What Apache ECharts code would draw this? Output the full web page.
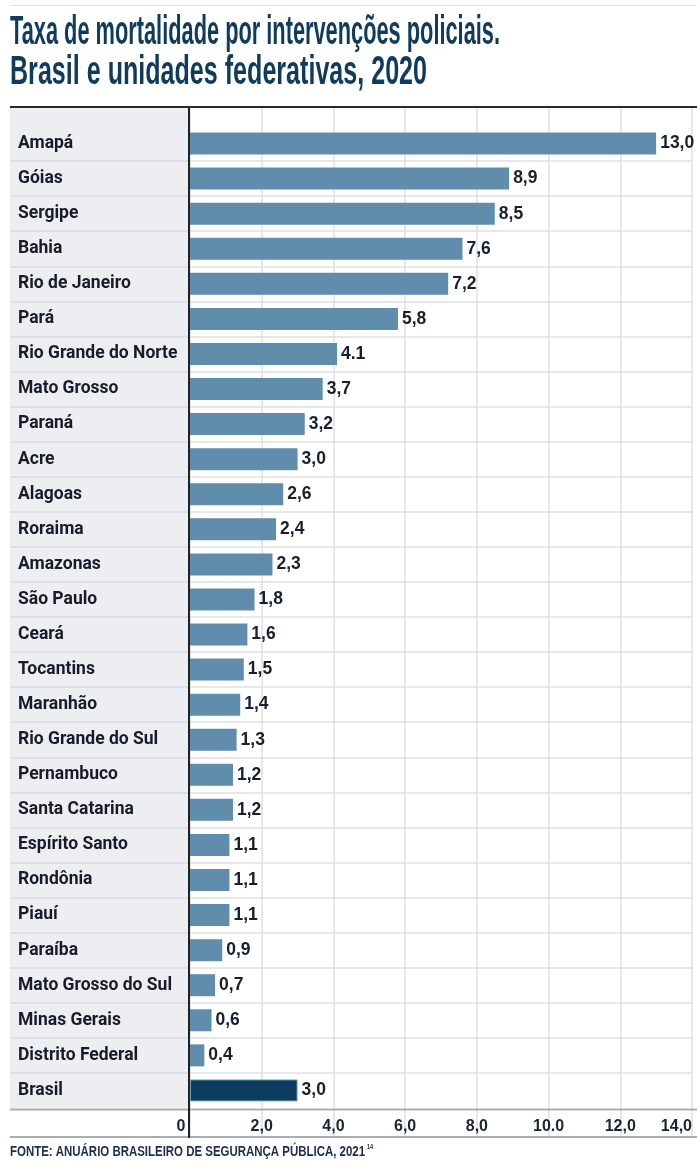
<!DOCTYPE html>
<html>
<head>
<meta charset="utf-8">
<script src="https://cdn.jsdelivr.net/npm/echarts@6/dist/echarts.min.js"></script>
<style>
html,body{margin:0;padding:0;background:#fff;}
#chart{width:697px;height:1167px;}
</style>
</head>
<body>
<div id="chart"></div>
<script>
// ---- data ----
const categories = ['Amapá','Góias','Sergipe','Bahia','Rio de Janeiro','Pará','Rio Grande do Norte','Mato Grosso','Paraná','Acre','Alagoas','Roraima','Amazonas','São Paulo','Ceará','Tocantins','Maranhão','Rio Grande do Sul','Pernambuco','Santa Catarina','Espírito Santo','Rondônia','Piauí','Paraíba','Mato Grosso do Sul','Minas Gerais','Distrito Federal','Brasil'];
const values = [13.0,8.9,8.5,7.6,7.2,5.8,4.1,3.7,3.2,3.0,2.6,2.4,2.3,1.8,1.6,1.5,1.4,1.3,1.2,1.2,1.1,1.1,1.1,0.9,0.7,0.6,0.4,3.0];
const valueLabels = ['13,0','8,9','8,5','7,6','7,2','5,8','4.1','3,7','3,2','3,0','2,6','2,4','2,3','1,8','1,6','1,5','1,4','1,3','1,2','1,2','1,1','1,1','1,1','0,9','0,7','0,6','0,4','3,0'];
const tickLabels = ['0','2,0','4,0','6,0','8,0','10.0','12,0','14,0'];
const titleLines = ['Taxa de mortalidade por intervenções policiais.','Brasil e unidades federativas, 2020'];
const sourceText = 'FONTE: ANUÁRIO BRASILEIRO DE SEGURANÇA PÚBLICA, 2021';
const sourceSup = '14';

// ---- layout ----
const W = 697;
const L = 10;            // left edge of frame
const AX = 190;          // x of value 0
const RIGHT = 5;
const TOP_LINE = 107;
const ROWS_TOP = 126;
const ROW_H = 35.07;
const ROWS_BOTTOM = ROWS_TOP + ROW_H * categories.length;
const TICK_BOTTOM = 1137;

const ctx = document.createElement('canvas').getContext('2d');
function fitScale(text, font, width) {
  ctx.font = font;
  return width / ctx.measureText(text).width;
}
const titleFont = 'bold 40px "Liberation Sans"';
const t1s = fitScale(titleLines[0], titleFont, 490);
const t2s = fitScale(titleLines[1], titleFont, 417);
const srcFont = 'bold 14px "Liberation Sans"';
const srcS = fitScale(sourceText, srcFont, 355);

const navy = '#103b5c';
const barColor = '#5f8dab';
const brasilColor = '#0b3c5d';
const gridLine = '#dcdfe3';

const chart = echarts.init(document.getElementById('chart'), null, {renderer: 'canvas'});
chart.setOption({
  animation: false,
  backgroundColor: '#ffffff',
  grid: [
    {left: AX, right: RIGHT, top: TOP_LINE, height: ROWS_BOTTOM - TOP_LINE + 2, containLabel: false},
    {left: AX, right: RIGHT, top: ROWS_TOP, height: ROWS_BOTTOM - ROWS_TOP, containLabel: false},
    {left: L, width: AX - L, top: ROWS_TOP, height: ROWS_BOTTOM - ROWS_TOP, containLabel: false}
  ],
  xAxis: [
    {
      gridIndex: 0, type: 'value', min: 0, max: 14, interval: 2, position: 'bottom',
      axisLine: {show: false},
      axisTick: {show: true, length: TICK_BOTTOM - ROWS_BOTTOM - 2, lineStyle: {color: gridLine, width: 1.5}},
      splitLine: {show: true, lineStyle: {color: gridLine, width: 1.5}},
      axisLabel: {
        margin: 9,
        fontFamily: 'Liberation Sans', fontWeight: 'bold', fontSize: 16, color: '#1b2433',
        alignMaxLabel: 'right',
        formatter: function (v) {
          const i = Math.round(v / 2);
          if (i === 0) return '{z|' + tickLabels[0] + '}';
          return tickLabels[i];
        },
        rich: {z: {fontFamily: 'Liberation Sans', fontWeight: 'bold', fontSize: 16, color: '#1b2433', padding: [0, 18, 0, 0]}}
      }
    },
    {gridIndex: 1, type: 'value', min: 0, max: 14, show: false},
    {gridIndex: 2, type: 'value', min: 0, max: 1, show: false}
  ],
  yAxis: [
    {gridIndex: 0, type: 'value', show: false},
    {
      gridIndex: 1, type: 'category', data: categories, inverse: true,
      axisLine: {show: false}, axisTick: {show: false},
      splitLine: {show: true, showMinLine: false, showMaxLine: false, lineStyle: {color: gridLine, width: 1.5}},
      axisLabel: {
        align: 'left', margin: AX - 18,
        fontFamily: 'Roboto', fontWeight: 'bold', fontSize: 17.5, color: '#181c2a'
      }
    },
    {
      gridIndex: 2, type: 'category', data: categories, inverse: true,
      axisLine: {show: false}, axisTick: {show: false}, axisLabel: {show: false},
      splitLine: {show: true, showMinLine: false, showMaxLine: false, lineStyle: {color: '#d8dbe0', width: 1.5}}
    }
  ],
  series: [{
    type: 'bar',
    xAxisIndex: 1, yAxisIndex: 1,
    barWidth: 22,
    data: values.map(function (v, i) {
      const isBr = categories[i] === 'Brasil';
      return {
        value: v,
        itemStyle: isBr ? {color: brasilColor, borderColor: '#7aa3c0', borderWidth: 1} : {color: barColor}
      };
    }),
    label: {
      show: true, position: 'right', distance: 4,
      fontFamily: 'Liberation Sans', fontWeight: 'bold', fontSize: 17.5, color: '#181f2e',
      formatter: function (p) { return valueLabels[p.dataIndex]; }
    }
  }],
  graphic: [
    {type: 'rect', z: -10, silent: true, shape: {x: L, y: TOP_LINE, width: AX - L - 1, height: ROWS_BOTTOM - TOP_LINE}, style: {fill: '#eceef1'}},
    {type: 'line', z: 100, silent: true, shape: {x1: L, y1: 5.5, x2: W, y2: 5.5}, style: {stroke: '#d9e1e8', lineWidth: 1}},
    {type: 'line', z: 100, silent: true, shape: {x1: L, y1: TOP_LINE, x2: W, y2: TOP_LINE}, style: {stroke: '#2a2a2a', lineWidth: 2}},
    {type: 'line', z: 100, silent: true, shape: {x1: L, y1: ROWS_BOTTOM + 1.5, x2: W, y2: ROWS_BOTTOM + 1.5}, style: {stroke: '#a9acb0', lineWidth: 2}},
    {type: 'line', z: 100, silent: true, shape: {x1: L, y1: TICK_BOTTOM, x2: W, y2: TICK_BOTTOM}, style: {stroke: '#a9acb0', lineWidth: 2}},
    {type: 'line', z: 100, silent: true, shape: {x1: AX - 1, y1: TOP_LINE, x2: AX - 1, y2: TICK_BOTTOM + 1}, style: {stroke: '#222222', lineWidth: 2}},
    {type: 'text', z: 100, silent: true, x: 10, y: 33, scaleX: t1s, style: {text: titleLines[0], font: titleFont, fill: navy, verticalAlign: 'middle', align: 'left'}},
    {type: 'text', z: 100, silent: true, x: 10, y: 73, scaleX: t2s, style: {text: titleLines[1], font: titleFont, fill: navy, verticalAlign: 'middle', align: 'left'}},
    {type: 'text', z: 100, silent: true, x: 10, y: 1152, scaleX: srcS, style: {text: sourceText, font: srcFont, fill: '#1d2d4d', verticalAlign: 'middle', align: 'left'}},
    {type: 'text', z: 100, silent: true, x: 367, y: 1147, scaleX: 0.8, style: {text: sourceSup, font: 'bold 7px "Liberation Sans"', fill: '#1d2d4d', verticalAlign: 'middle', align: 'left'}}
  ]
});
</script>
</body>
</html>
